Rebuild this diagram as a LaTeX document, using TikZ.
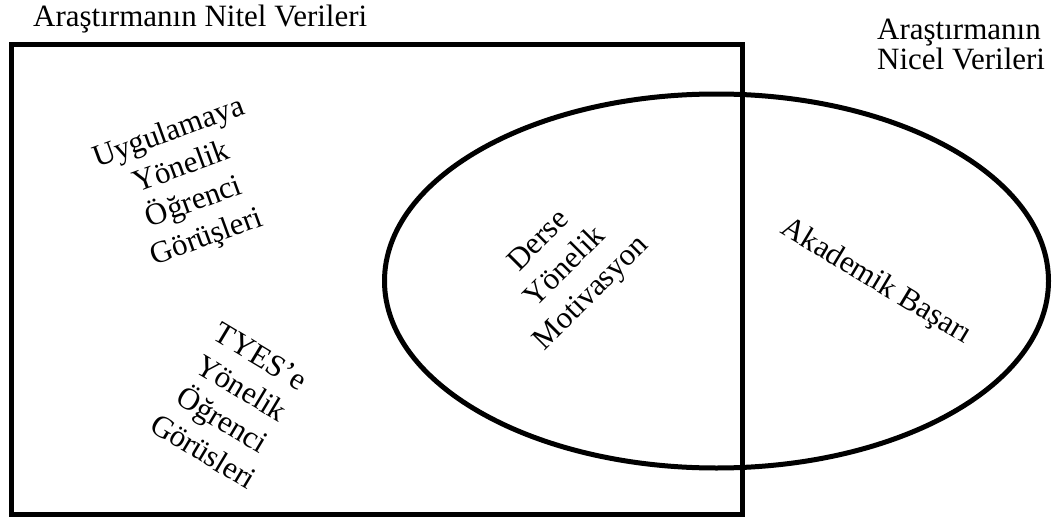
\documentclass[tikz,border=0pt]{standalone}
\usepackage{fontspec}
\setmainfont{Liberation Serif}
\begin{document}
\begin{tikzpicture}[x=1pt,y=-1pt,
  frame/.style={line width=5pt,line join=miter},
  label/.style={inner sep=0pt,font=\fontsize{31}{37}\selectfont},
  block/.style={label,align=center}]
  % canvas
  \useasboundingbox (0,0) rectangle (1055,519);
  % qualitative data box and quantitative data ellipse
  \draw[frame] (11,45) rectangle (742.5,514);
  \draw[frame] (716.5,281) ellipse [x radius=332, y radius=187];
  % headings
  \node[label,anchor=base west] (nitel) at (33,27) {Araştırmanın Nitel Verileri};
  \node[label,anchor=base west,align=left,font=\fontsize{31}{30}\selectfont] (nicel) at (877,70)
    {Araştırmanın\\Nicel Verileri};
  % rotated content labels
  \node[block,rotate=20] (uyg) at (188,186) {Uygulamaya\\Yönelik\\Öğrenci\\Görüşleri};
  \node[block,rotate=-31] (tyes) at (232,404) {TYES’e\\Yönelik\\Öğrenci\\Görüsleri};
  \node[block,rotate=45] (derse) at (566,268) {Derse\\Yönelik\\Motivasyon};
  \node[label,rotate=-31] (akad) at (876,282) {Akademik Başarı};
\end{tikzpicture}
\end{document}
